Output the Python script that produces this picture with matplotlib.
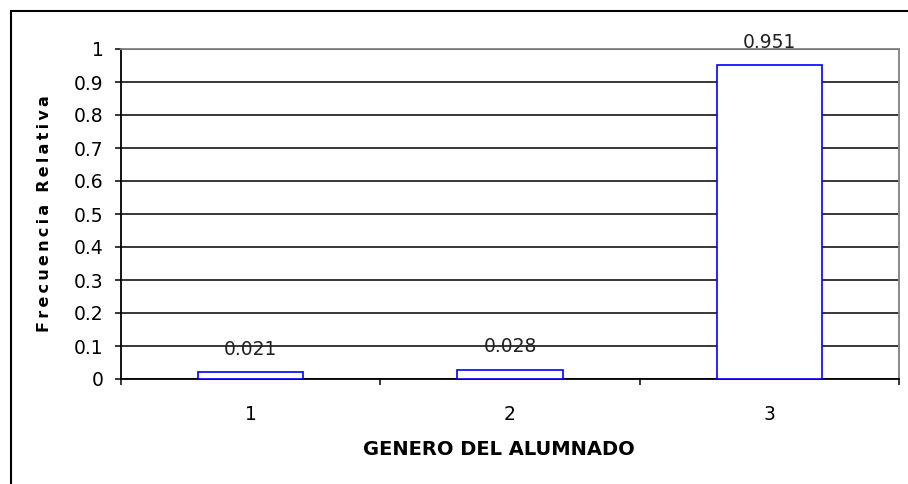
import matplotlib
matplotlib.use("Agg")
from matplotlib import pyplot as plt
from matplotlib.patches import Rectangle
import numpy as np

# datos
categorias = ["1", "2", "3"]
frecuencias = [0.021, 0.028, 0.951]
etiquetas = ["0.021", "0.028", "0.951"]

plt.rcParams["font.family"] = "DejaVu Sans"

fig = plt.figure(figsize=(9.08, 4.84), dpi=100)
ax = fig.add_axes([121 / 908, 1 - 379 / 484, 778 / 908, 330 / 484])

pos = np.arange(1, len(categorias) + 1)
barras = ax.bar(pos, frecuencias, width=0.405, facecolor="white",
                edgecolor="#0000ff", linewidth=1.2, zorder=3)

for b, txt in zip(barras, etiquetas):
    ax.annotate(txt, (b.get_x() + b.get_width() / 2, b.get_height()),
                xytext=(0, 16.5), textcoords="offset points",
                ha="center", va="center", fontsize=13.5, color="#222222", zorder=4)

ax.set_xlim(0.5, len(categorias) + 0.5)
ax.set_ylim(0, 1)
ax.set_yticks(np.arange(0, 1.01, 0.1))
ax.set_yticklabels(["0", "0.1", "0.2", "0.3", "0.4", "0.5", "0.6", "0.7", "0.8", "0.9", "1"])
ax.yaxis.grid(True, color="black", linewidth=1.1, zorder=1)
ax.set_axisbelow(True)

# marcas entre categorias, etiquetas en el centro
ax.set_xticks(np.arange(0.5, len(categorias) + 1, 1))
ax.set_xticklabels([])
ax.set_xticks(pos, minor=True)
ax.set_xticklabels(categorias, minor=True)
ax.tick_params(axis="x", which="major", direction="out", length=4.5, width=1.1)
ax.tick_params(axis="x", which="minor", length=0, pad=19, labelsize=13.5)
ax.tick_params(axis="y", direction="out", length=4.5, width=1.1, pad=8, labelsize=13.5)

for s in ["left", "bottom"]:
    ax.spines[s].set_color("black")
    ax.spines[s].set_linewidth(1.3)
for s in ["top", "right"]:
    ax.spines[s].set_color("#808080")
    ax.spines[s].set_linewidth(1.3)

ax.set_xlabel("GENERO DEL ALUMNADO", fontsize=14, fontweight="bold", va="center")
ax.xaxis.set_label_coords(0.486, -0.215)
# letras algo separadas como en el original
ylab = "\u2009".join("Frecuencia Relativa")
ax.set_ylabel(ylab, fontsize=11.5, fontweight="bold", va="center")
ax.yaxis.set_label_coords(-0.098, 0.5)

# marco exterior
fig.patches.append(Rectangle((11 / 908, -0.1), 1.2, 1 - 11 / 484 + 0.1,
                             transform=fig.transFigure, fill=False,
                             edgecolor="black", linewidth=1.5))

fig.savefig("out.png", dpi=100)
